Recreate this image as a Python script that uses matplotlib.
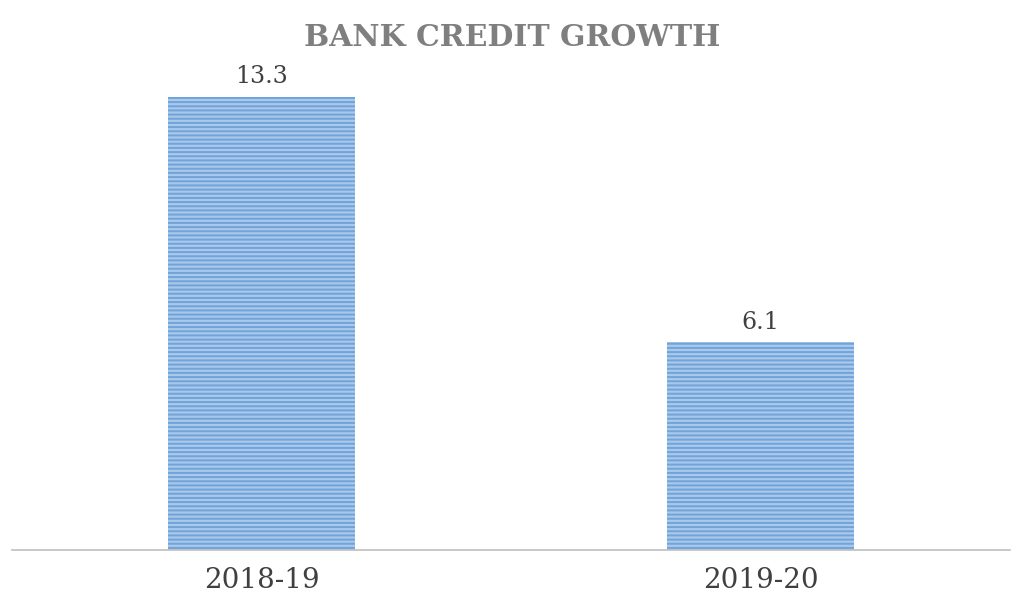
import matplotlib
matplotlib.use("Agg")
import matplotlib.pyplot as plt

# -- Data --------------------------------------------------------------------
years = ["2018-19", "2019-20"]
growth = [13.3, 6.1]

GRAY_TITLE = "#7F7F7F"
TEXT = "#404040"
FACE = "#A9C8EA"
STRIPE = "#6FA3DA"

plt.rcParams["hatch.linewidth"] = 1.4

fig = plt.figure(figsize=(10.24, 6.06), dpi=100)
ax = fig.add_axes([12 / 1024, 1 - 550 / 606, 998 / 1024, 477 / 606])

x = range(len(years))
bars = ax.bar(x, growth, width=0.376, color=FACE, edgecolor=STRIPE,
              hatch="----", linewidth=0)

for b, v in zip(bars, growth):
    ax.text(b.get_x() + b.get_width() / 2, v + 0.25, f"{v}",
            ha="center", va="bottom", fontsize=17, color=TEXT,
            family="DejaVu Serif")

ax.set_xlim(-0.5, 1.5)
ax.set_ylim(0, 14)
ax.set_xticks(list(x))
ax.set_xticklabels(years, fontsize=20, color=TEXT, family="DejaVu Serif")
ax.tick_params(axis="x", length=0, pad=12)
ax.set_yticks([])
for s in ["top", "left", "right"]:
    ax.spines[s].set_visible(False)
ax.spines["bottom"].set_color("#BFBFBF")
ax.spines["bottom"].set_linewidth(1.2)

fig.text(0.5, 1 - 37 / 606, "BANK CREDIT GROWTH", ha="center", va="center",
         fontsize=21.5, fontweight="bold", color=GRAY_TITLE,
         family="DejaVu Serif")

fig.savefig("out.png", dpi=100, facecolor="white")
